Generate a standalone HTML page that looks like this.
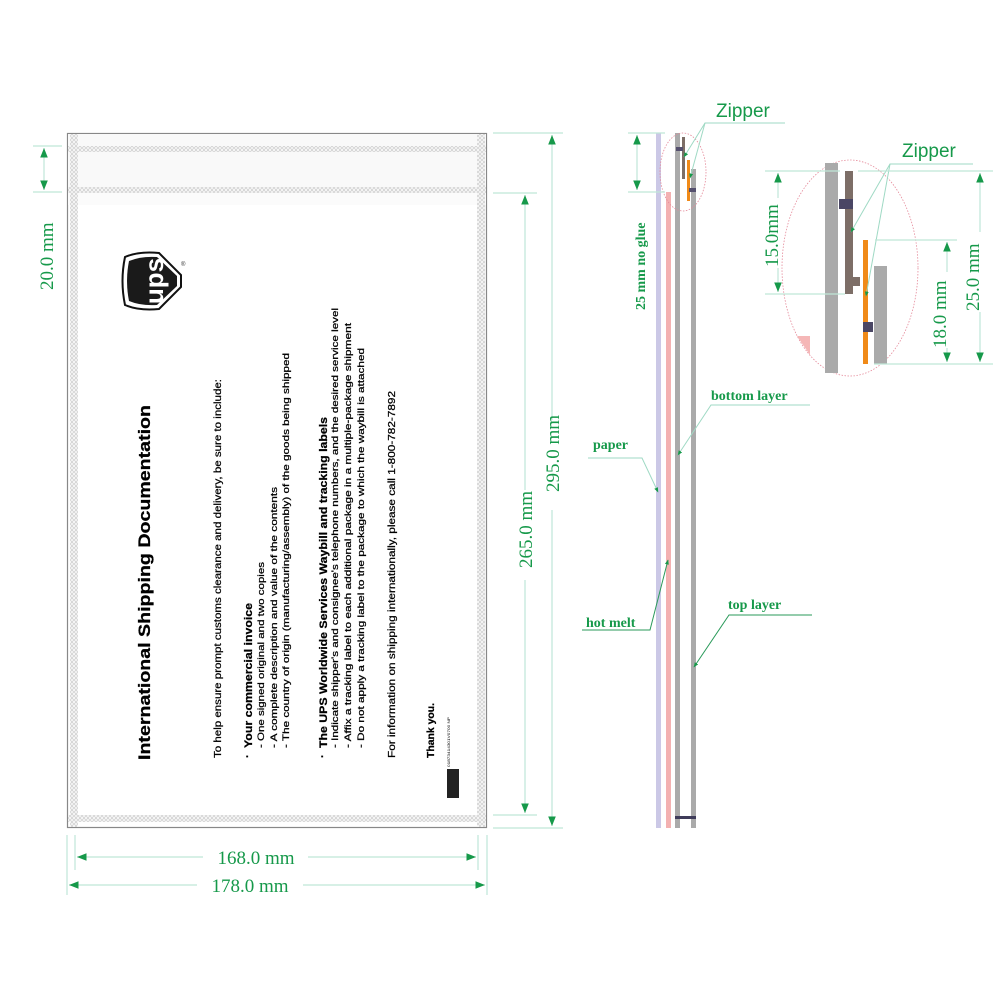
<!DOCTYPE html>
<html><head><meta charset="utf-8"><style>
html,body{margin:0;padding:0;background:#fff}
svg{display:block}
.g{fill:#16994a;font-family:"Liberation Serif",serif}
.gs{fill:#16994a;font-family:"Liberation Sans",sans-serif}
.dl{stroke:#bfe6d8;stroke-width:1.2;fill:none}
.ld{stroke:#9fd9c4;stroke-width:1;fill:none}
.t{font-family:"Liberation Sans",sans-serif;fill:#000;stroke:#000;stroke-width:0.25}
</style></head><body>
<svg width="1000" height="1000" viewBox="0 0 1000 1000" xmlns="http://www.w3.org/2000/svg">
<defs>
<pattern id="h" width="4" height="4" patternUnits="userSpaceOnUse">
<rect width="4" height="4" fill="#f6f6f6"/><circle cx="2" cy="2" r="1.5" fill="none" stroke="#c4c4c4" stroke-width="0.6"/>
</pattern>
<marker id="a" viewBox="0 0 10 10" refX="10" refY="5" markerWidth="8" markerHeight="8" orient="auto-start-reverse"><path d="M0,1 L10,5 L0,9 z" fill="#16994a"/></marker>
<marker id="s" viewBox="0 0 10 10" refX="9" refY="5" markerWidth="5" markerHeight="5" orient="auto"><path d="M0,1 L10,5 L0,9 z" fill="#16994a"/></marker>
</defs>

<!-- envelope -->
<rect x="67.5" y="133.5" width="419" height="694" fill="#fff" stroke="#888" stroke-width="1.2"/>
<rect x="68" y="134" width="418" height="59" fill="#f9f9f9"/>
<rect x="68" y="193" width="418" height="12" fill="#fbfbfb"/>
<rect x="68" y="146" width="418" height="6" fill="url(#h)"/>
<rect x="68" y="187" width="418" height="6" fill="url(#h)"/>
<rect x="68" y="815" width="418" height="7" fill="url(#h)"/>
<rect x="70" y="134" width="8" height="693" fill="url(#h)"/>
<rect x="477" y="134" width="8" height="693" fill="url(#h)"/>

<!-- UPS logo -->
<g transform="translate(153,281)">
<path d="M-28,-24 Q-33,0 -28,24 Q-14,30 6,28 L28,6 L28,-6 L6,-28 Q-14,-30 -28,-24 z" fill="#fff" stroke="#111" stroke-width="2"/>
<path d="M-24,-20 Q-28,0 -24,20 Q-12,25 4,24 L24,5 L24,-5 L4,-24 Q-12,-25 -24,-20 z" fill="#1a1a1a"/>
<text transform="rotate(-90)" x="0" y="10" text-anchor="middle" font-family="Liberation Sans,sans-serif" font-weight="bold" font-size="26" fill="#fff">ups</text>
<text x="28" y="-15" font-size="6" font-family="Liberation Sans,sans-serif" fill="#333">®</text>
</g>

<!-- rotated text -->
<g class="t">
<text transform="translate(150,760) rotate(-90)" font-size="17" font-weight="bold" textLength="355" lengthAdjust="spacingAndGlyphs">International Shipping Documentation</text>
<text transform="translate(221,758) rotate(-90)" font-size="10" textLength="379" lengthAdjust="spacingAndGlyphs">To help ensure prompt customs clearance and delivery, be sure to include:</text>
<text transform="translate(251,758) rotate(-90)" font-size="11" font-weight="bold">·</text>
<text transform="translate(252,748) rotate(-90)" font-size="11" font-weight="bold" textLength="145" lengthAdjust="spacingAndGlyphs">Your commercial invoice</text>
<text transform="translate(264,748) rotate(-90)" font-size="9.5" textLength="186" lengthAdjust="spacingAndGlyphs">- One signed original and two copies</text>
<text transform="translate(277,748) rotate(-90)" font-size="9.5" textLength="261" lengthAdjust="spacingAndGlyphs">- A complete description and value of the contents</text>
<text transform="translate(289,748) rotate(-90)" font-size="9.5" textLength="395" lengthAdjust="spacingAndGlyphs">- The country of origin (manufacturing/assembly) of the goods being shipped</text>
<text transform="translate(326,758) rotate(-90)" font-size="11" font-weight="bold">·</text>
<text transform="translate(327,748) rotate(-90)" font-size="11" font-weight="bold" textLength="331" lengthAdjust="spacingAndGlyphs">The UPS Worldwide Services Waybill and tracking labels</text>
<text transform="translate(338,748) rotate(-90)" font-size="9.5" textLength="440" lengthAdjust="spacingAndGlyphs">- Indicate shipper's and consignee's telephone numbers, and the desired service level</text>
<text transform="translate(351,748) rotate(-90)" font-size="9.5" textLength="425" lengthAdjust="spacingAndGlyphs">- Affix a tracking label to each additional package in a multiple-package shipment</text>
<text transform="translate(364,748) rotate(-90)" font-size="9.5" textLength="400" lengthAdjust="spacingAndGlyphs">- Do not apply a tracking label to the package to which the waybill is attached</text>
<text transform="translate(395,758) rotate(-90)" font-size="10" textLength="367" lengthAdjust="spacingAndGlyphs">For information on shipping internationally,  please call  1-800-782-7892</text>
<text transform="translate(434,758) rotate(-90)" font-size="10" font-weight="bold" textLength="55" lengthAdjust="spacingAndGlyphs">Thank you.</text>
<text transform="translate(450,767) rotate(-90)" font-size="4" stroke-width="0" textLength="50" lengthAdjust="spacingAndGlyphs">01873414301V0700 NP</text>
</g>
<rect x="447" y="769" width="12" height="29" fill="#222"/>

<!-- left dims -->
<line class="dl" x1="33" y1="146" x2="62" y2="146"/><line class="dl" x1="33" y1="192" x2="62" y2="192"/>
<line x1="44" y1="148" x2="44" y2="190" stroke="#bfe6d8" stroke-width="1.2" marker-start="url(#a)" marker-end="url(#a)"/>
<text class="g" font-size="19" transform="translate(53,290) rotate(-90)">20.0 mm</text>

<line class="dl" x1="493" y1="193" x2="537" y2="193"/><line class="dl" x1="493" y1="815" x2="537" y2="815"/>
<line class="dl" x1="493" y1="133" x2="563" y2="133"/><line class="dl" x1="493" y1="828" x2="563" y2="828"/>
<line x1="525" y1="195" x2="525" y2="813" stroke="#bfe6d8" stroke-width="1.2" marker-start="url(#a)" marker-end="url(#a)"/>
<line x1="552" y1="135" x2="552" y2="826" stroke="#bfe6d8" stroke-width="1.2" marker-start="url(#a)" marker-end="url(#a)"/>
<rect x="516" y="490" width="18" height="90" fill="#fff"/><rect x="543" y="420" width="18" height="90" fill="#fff"/>
<text class="g" font-size="19" transform="translate(532,568) rotate(-90)">265.0 mm</text>
<text class="g" font-size="19" transform="translate(559,492) rotate(-90)">295.0 mm</text>

<!-- bottom dims -->
<line class="dl" x1="67" y1="835" x2="67" y2="895"/><line class="dl" x1="487" y1="835" x2="487" y2="895"/>
<line class="dl" x1="75" y1="835" x2="75" y2="870"/><line class="dl" x1="478" y1="835" x2="478" y2="870"/>
<line x1="77" y1="857" x2="203" y2="857" stroke="#bfe6d8" stroke-width="1.2" marker-start="url(#a)"/>
<line x1="308" y1="857" x2="476" y2="857" stroke="#bfe6d8" stroke-width="1.2" marker-end="url(#a)"/>
<line x1="69" y1="885" x2="197" y2="885" stroke="#bfe6d8" stroke-width="1.2" marker-start="url(#a)"/>
<line x1="303" y1="885" x2="485" y2="885" stroke="#bfe6d8" stroke-width="1.2" marker-end="url(#a)"/>
<text class="g" font-size="19" x="256" y="864" text-anchor="middle">168.0 mm</text>
<text class="g" font-size="19" x="250" y="892" text-anchor="middle">178.0 mm</text>

<!-- cross section -->
<rect x="656" y="133" width="5" height="695" fill="#cbc8e6"/>
<rect x="666" y="192" width="5" height="636" fill="#f3b1b1"/>
<rect x="675" y="133" width="5" height="695" fill="#aaa"/>
<rect x="691" y="169" width="5" height="659" fill="#aaa"/>
<rect x="675" y="816" width="21" height="3" fill="#3f3c5a"/>
<rect x="682" y="137" width="3" height="42" fill="#7d6e67"/>
<rect x="687" y="160" width="3" height="41" fill="#f08a18"/>
<rect x="676" y="147" width="7" height="4" fill="#55506e"/>
<rect x="689" y="188" width="7" height="4" fill="#55506e"/>
<ellipse cx="683" cy="172" rx="23" ry="39" fill="none" stroke="#e58a9a" stroke-width="0.8" stroke-dasharray="1.5,1.5"/>

<line class="dl" x1="628" y1="133" x2="665" y2="133"/><line class="dl" x1="628" y1="192" x2="665" y2="192"/>
<line x1="637" y1="135" x2="637" y2="190" stroke="#bfe6d8" stroke-width="1.2" marker-start="url(#a)" marker-end="url(#a)"/>
<text class="g" font-size="14" font-weight="bold" transform="translate(645,310) rotate(-90)">25 mm  no glue</text>

<text class="gs" font-size="19" x="716" y="117">Zipper</text>
<polyline class="ld" points="785,123 705,123 684,157" marker-end="url(#s)"/>
<line class="ld" x1="705" y1="123" x2="690" y2="178" marker-end="url(#s)"/>

<text class="g" font-size="14" font-weight="bold" x="711" y="400">bottom layer</text>
<polyline class="ld" points="810,405 711,405 678,455" marker-end="url(#s)"/>
<text class="g" font-size="14" font-weight="bold" x="593" y="449">paper</text>
<polyline class="ld" points="588,458 642,458 658,492" marker-end="url(#s)"/>
<text class="g" font-size="14" font-weight="bold" x="586" y="627">hot melt</text>
<polyline points="582,630 650,630 668,560" fill="none" stroke="#2a9a5a" stroke-width="1" marker-end="url(#s)"/>
<text class="g" font-size="14" font-weight="bold" x="728" y="609">top layer</text>
<polyline points="812,615 729,615 694,667" fill="none" stroke="#2a9a5a" stroke-width="1" marker-end="url(#s)"/>

<!-- detail -->
<ellipse cx="850" cy="268" rx="68" ry="108" fill="none" stroke="#e58a9a" stroke-width="0.8" stroke-dasharray="1.5,1.5"/>
<rect x="825" y="163" width="13" height="210" fill="#aaa"/>
<rect x="874" y="266" width="13" height="98" fill="#aaa"/>
<rect x="845" y="171" width="8" height="123" fill="#7d6e67"/>
<rect x="853" y="277" width="7" height="9" fill="#7d6e67"/>
<rect x="863" y="240" width="5" height="124" fill="#f08a18"/>
<rect x="839" y="199" width="14" height="10" fill="#4a4664"/>
<rect x="863" y="322" width="10" height="10" fill="#4a4664"/>
<path d="M797,336 L810,336 L810,355 z" fill="#f5b7b7"/>
<text class="gs" font-size="19" x="902" y="157">Zipper</text>
<polyline class="ld" points="973,164 890,164 851,232" marker-end="url(#s)"/>
<line class="ld" x1="890" y1="164" x2="866" y2="296" marker-end="url(#s)"/>

<line class="dl" x1="765" y1="171" x2="840" y2="171"/><line class="dl" x1="858" y1="171" x2="993" y2="171"/>
<line class="dl" x1="765" y1="294" x2="845" y2="294"/>
<line class="dl" x1="875" y1="240" x2="957" y2="240"/>
<line class="dl" x1="874" y1="364" x2="993" y2="364"/>
<line x1="778" y1="173" x2="778" y2="292" stroke="#bfe6d8" stroke-width="1.2" marker-start="url(#a)" marker-end="url(#a)"/>
<line x1="947" y1="242" x2="947" y2="362" stroke="#bfe6d8" stroke-width="1.2" marker-start="url(#a)" marker-end="url(#a)"/>
<line x1="980" y1="173" x2="980" y2="362" stroke="#bfe6d8" stroke-width="1.2" marker-start="url(#a)" marker-end="url(#a)"/>
<rect x="762" y="198" width="18" height="70" fill="#fff"/>
<rect x="931" y="272" width="18" height="76" fill="#fff"/>
<rect x="963" y="232" width="18" height="80" fill="#fff"/>
<text class="g" font-size="19" transform="translate(778,267) rotate(-90)">15.0mm</text>
<text class="g" font-size="19" transform="translate(946,348) rotate(-90)">18.0 mm</text>
<text class="g" font-size="19" transform="translate(979,311) rotate(-90)">25.0 mm</text>
</svg>
</body></html>
